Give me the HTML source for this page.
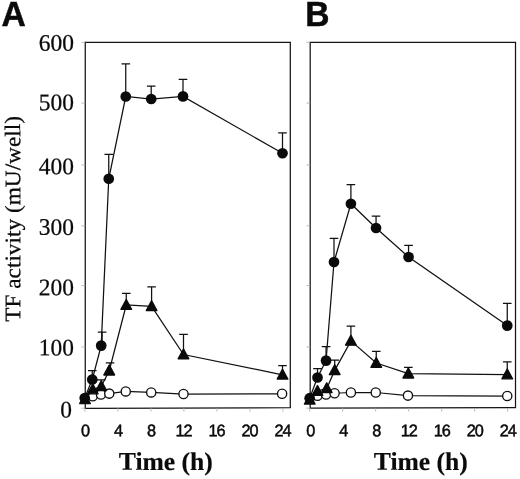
<!DOCTYPE html>
<html lang="en"><head><meta charset="utf-8"><title>TF activity</title>
<style>
html,body{margin:0;padding:0;background:#fff;}
body{width:520px;height:479px;overflow:hidden;position:relative;}
svg{position:absolute;left:0;top:0;display:block;}
text{fill:#0a0a0a;}
.pl{font-family:"Liberation Sans",sans-serif;font-weight:bold;font-size:35px;stroke:#0a0a0a;stroke-width:0.5px;}
.yt{font-family:"Liberation Serif",serif;font-size:23.8px;stroke:#0a0a0a;stroke-width:0.25px;}
.yl{font-family:"Liberation Serif",serif;font-size:22.2px;stroke:#0a0a0a;stroke-width:0.25px;}
.xl{font-family:"Liberation Serif",serif;font-weight:bold;font-size:25.6px;stroke:#0a0a0a;stroke-width:0.2px;}
.xt{font-family:"Liberation Sans",sans-serif;font-size:16.8px;stroke:#0a0a0a;stroke-width:0.5px;}
</style></head><body>
<svg width="520" height="479" viewBox="0 0 520 479">
<rect width="520" height="479" fill="#fff"/>
<text class="pl" transform="translate(1.5,26.0) scale(0.96,1)">A</text>
<text class="pl" transform="translate(305.3,26.0) scale(0.96,1)">B</text>
<text class="yt" transform="translate(74.0,50.80) rotate(0.05) scale(0.985,1)" text-anchor="end">600</text>
<text class="yt" transform="translate(74.0,110.20) rotate(0.05) scale(0.985,1)" text-anchor="end">500</text>
<text class="yt" transform="translate(74.0,174.20) rotate(0.05) scale(0.985,1)" text-anchor="end">400</text>
<text class="yt" transform="translate(74.0,234.90) rotate(0.05) scale(0.985,1)" text-anchor="end">300</text>
<text class="yt" transform="translate(74.0,295.20) rotate(0.05) scale(0.985,1)" text-anchor="end">200</text>
<text class="yt" transform="translate(74.0,355.40) rotate(0.05) scale(0.985,1)" text-anchor="end">100</text>
<text class="yt" transform="translate(72.0,417.50) rotate(0.05) scale(0.985,1)" text-anchor="end">0</text>
<text class="yl" transform="translate(20.2,218.9) rotate(-90.05) scale(1.05,1)" text-anchor="middle">TF activity (mU/well)</text>
<g>
<path d="M85.25 42.45H290.3V407.75L85.25 408.3Z" fill="none" stroke="#141414" stroke-width="1.25" stroke-linejoin="miter"/>
<line x1="81.45" y1="42.30" x2="85.25" y2="42.30" stroke="#aaa" stroke-width="0.8"/>
<line x1="81.45" y1="103.10" x2="85.25" y2="103.10" stroke="#aaa" stroke-width="0.8"/>
<line x1="81.45" y1="164.90" x2="85.25" y2="164.90" stroke="#aaa" stroke-width="0.8"/>
<line x1="81.45" y1="225.80" x2="85.25" y2="225.80" stroke="#aaa" stroke-width="0.8"/>
<line x1="81.45" y1="285.60" x2="85.25" y2="285.60" stroke="#aaa" stroke-width="0.8"/>
<line x1="81.45" y1="346.90" x2="85.25" y2="346.90" stroke="#aaa" stroke-width="0.8"/>
<line x1="81.45" y1="408.20" x2="85.25" y2="408.20" stroke="#aaa" stroke-width="0.8"/>
<line x1="84.90" y1="408.0" x2="84.90" y2="411.6" stroke="#aaa" stroke-width="0.8"/>
<line x1="117.90" y1="408.0" x2="117.90" y2="411.6" stroke="#aaa" stroke-width="0.8"/>
<line x1="150.90" y1="408.0" x2="150.90" y2="411.6" stroke="#aaa" stroke-width="0.8"/>
<line x1="183.90" y1="408.0" x2="183.90" y2="411.6" stroke="#aaa" stroke-width="0.8"/>
<line x1="216.90" y1="408.0" x2="216.90" y2="411.6" stroke="#aaa" stroke-width="0.8"/>
<line x1="249.90" y1="408.0" x2="249.90" y2="411.6" stroke="#aaa" stroke-width="0.8"/>
<line x1="282.90" y1="408.0" x2="282.90" y2="411.6" stroke="#aaa" stroke-width="0.8"/>
<polyline fill="none" stroke="#111" stroke-width="1.25" points="84.50,397.80 92.75,396.20 101.00,394.50 109.25,393.60 125.75,391.40 151.20,392.40 183.50,394.00 282.10,393.80"/>
<circle cx="92.75" cy="396.20" r="4.6" fill="#fff" stroke="#111" stroke-width="1.35"/>
<circle cx="101.00" cy="394.50" r="4.6" fill="#fff" stroke="#111" stroke-width="1.35"/>
<circle cx="109.25" cy="393.60" r="4.6" fill="#fff" stroke="#111" stroke-width="1.35"/>
<circle cx="125.75" cy="391.40" r="4.6" fill="#fff" stroke="#111" stroke-width="1.35"/>
<circle cx="151.20" cy="392.40" r="4.6" fill="#fff" stroke="#111" stroke-width="1.35"/>
<circle cx="183.50" cy="394.00" r="4.6" fill="#fff" stroke="#111" stroke-width="1.35"/>
<circle cx="282.10" cy="393.80" r="4.6" fill="#fff" stroke="#111" stroke-width="1.35"/>
<polyline fill="none" stroke="#111" stroke-width="1.25" points="85.00,399.30 92.75,389.60 101.30,386.30 109.25,370.70 126.25,305.00 151.60,306.30 183.50,354.50 282.50,374.80"/>
<path d="M101.30 386.30V379.80M97.00 379.80H105.60" stroke="#111" stroke-width="1.25" fill="none"/>
<path d="M110.05 370.70V362.90M105.75 362.90H114.35" stroke="#111" stroke-width="1.25" fill="none"/>
<path d="M126.25 305.00V293.25M121.95 293.25H130.55" stroke="#111" stroke-width="1.25" fill="none"/>
<path d="M151.60 306.30V286.75M147.30 286.75H155.90" stroke="#111" stroke-width="1.25" fill="none"/>
<path d="M183.50 354.50V334.40M179.20 334.40H187.80" stroke="#111" stroke-width="1.25" fill="none"/>
<path d="M282.50 374.80V365.50M278.20 365.50H286.80" stroke="#111" stroke-width="1.25" fill="none"/>
<path d="M85.00 393.80L90.30 403.55H79.70Z" fill="#0a0a0a" stroke="#0a0a0a" stroke-width="1.4" stroke-linejoin="round"/>
<path d="M92.75 384.10L98.05 393.85H87.45Z" fill="#0a0a0a" stroke="#0a0a0a" stroke-width="1.4" stroke-linejoin="round"/>
<path d="M101.30 380.80L106.60 390.55H96.00Z" fill="#0a0a0a" stroke="#0a0a0a" stroke-width="1.4" stroke-linejoin="round"/>
<path d="M109.25 365.20L114.55 374.95H103.95Z" fill="#0a0a0a" stroke="#0a0a0a" stroke-width="1.4" stroke-linejoin="round"/>
<path d="M126.25 299.50L131.55 309.25H120.95Z" fill="#0a0a0a" stroke="#0a0a0a" stroke-width="1.4" stroke-linejoin="round"/>
<path d="M151.60 300.80L156.90 310.55H146.30Z" fill="#0a0a0a" stroke="#0a0a0a" stroke-width="1.4" stroke-linejoin="round"/>
<path d="M183.50 349.00L188.80 358.75H178.20Z" fill="#0a0a0a" stroke="#0a0a0a" stroke-width="1.4" stroke-linejoin="round"/>
<path d="M282.50 369.30L287.80 379.05H277.20Z" fill="#0a0a0a" stroke="#0a0a0a" stroke-width="1.4" stroke-linejoin="round"/>
<polyline fill="none" stroke="#111" stroke-width="1.25" points="84.70,398.00 92.25,379.50 101.20,345.60 108.75,178.75 125.75,96.50 151.20,99.00 183.00,96.40 282.50,153.25"/>
<path d="M92.25 379.50V370.60M87.95 370.60H96.55" stroke="#111" stroke-width="1.25" fill="none"/>
<path d="M102.10 345.60V332.00M97.80 332.00H106.40" stroke="#111" stroke-width="1.25" fill="none"/>
<path d="M108.75 178.75V154.40M104.45 154.40H113.05" stroke="#111" stroke-width="1.25" fill="none"/>
<path d="M125.75 96.50V63.75M121.45 63.75H130.05" stroke="#111" stroke-width="1.25" fill="none"/>
<path d="M151.20 99.00V86.00M146.90 86.00H155.50" stroke="#111" stroke-width="1.25" fill="none"/>
<path d="M183.00 96.40V79.40M178.70 79.40H187.30" stroke="#111" stroke-width="1.25" fill="none"/>
<path d="M282.50 153.25V132.75M278.20 132.75H286.80" stroke="#111" stroke-width="1.25" fill="none"/>
<circle cx="84.70" cy="398.00" r="5.35" fill="#0a0a0a"/>
<circle cx="92.25" cy="379.50" r="5.35" fill="#0a0a0a"/>
<circle cx="101.20" cy="345.60" r="5.35" fill="#0a0a0a"/>
<circle cx="108.75" cy="178.75" r="5.35" fill="#0a0a0a"/>
<circle cx="125.75" cy="96.50" r="5.35" fill="#0a0a0a"/>
<circle cx="151.20" cy="99.00" r="5.35" fill="#0a0a0a"/>
<circle cx="183.00" cy="96.40" r="5.35" fill="#0a0a0a"/>
<circle cx="282.50" cy="153.25" r="5.35" fill="#0a0a0a"/>
<text class="xt" transform="translate(85.40,436.3) rotate(0.05) scale(0.97,1)" text-anchor="middle">0</text>
<text class="xt" transform="translate(118.40,436.3) rotate(0.05) scale(0.97,1)" text-anchor="middle">4</text>
<text class="xt" transform="translate(151.40,436.3) rotate(0.05) scale(0.97,1)" text-anchor="middle">8</text>
<text class="xt" transform="translate(183.60,436.3) rotate(0.05) scale(0.97,1)" text-anchor="middle" style="letter-spacing:-0.9px">12</text>
<text class="xt" transform="translate(216.60,436.3) rotate(0.05) scale(0.97,1)" text-anchor="middle" style="letter-spacing:-0.9px">16</text>
<text class="xt" transform="translate(249.60,436.3) rotate(0.05) scale(0.97,1)" text-anchor="middle" style="letter-spacing:-0.9px">20</text>
<text class="xt" transform="translate(282.60,436.3) rotate(0.05) scale(0.97,1)" text-anchor="middle" style="letter-spacing:-0.9px">24</text>
<text class="xl" transform="translate(165.8,469.9) rotate(0.05)" text-anchor="middle">Time (h)</text>
</g>
<g>
<path d="M310.2 42.45H515.5V407.7L310.2 408.05Z" fill="none" stroke="#141414" stroke-width="1.25" stroke-linejoin="miter"/>
<line x1="306.4" y1="42.30" x2="310.2" y2="42.30" stroke="#aaa" stroke-width="0.8"/>
<line x1="306.4" y1="103.10" x2="310.2" y2="103.10" stroke="#aaa" stroke-width="0.8"/>
<line x1="306.4" y1="164.90" x2="310.2" y2="164.90" stroke="#aaa" stroke-width="0.8"/>
<line x1="306.4" y1="225.80" x2="310.2" y2="225.80" stroke="#aaa" stroke-width="0.8"/>
<line x1="306.4" y1="285.60" x2="310.2" y2="285.60" stroke="#aaa" stroke-width="0.8"/>
<line x1="306.4" y1="346.90" x2="310.2" y2="346.90" stroke="#aaa" stroke-width="0.8"/>
<line x1="306.4" y1="408.20" x2="310.2" y2="408.20" stroke="#aaa" stroke-width="0.8"/>
<line x1="309.65" y1="408.0" x2="309.65" y2="411.6" stroke="#aaa" stroke-width="0.8"/>
<line x1="342.65" y1="408.0" x2="342.65" y2="411.6" stroke="#aaa" stroke-width="0.8"/>
<line x1="375.65" y1="408.0" x2="375.65" y2="411.6" stroke="#aaa" stroke-width="0.8"/>
<line x1="408.65" y1="408.0" x2="408.65" y2="411.6" stroke="#aaa" stroke-width="0.8"/>
<line x1="441.65" y1="408.0" x2="441.65" y2="411.6" stroke="#aaa" stroke-width="0.8"/>
<line x1="474.65" y1="408.0" x2="474.65" y2="411.6" stroke="#aaa" stroke-width="0.8"/>
<line x1="507.65" y1="408.0" x2="507.65" y2="411.6" stroke="#aaa" stroke-width="0.8"/>
<polyline fill="none" stroke="#111" stroke-width="1.25" points="309.25,397.80 317.50,395.75 326.05,394.50 334.60,393.25 350.90,392.50 375.75,392.50 407.95,395.60 507.25,396.00"/>
<circle cx="317.50" cy="395.75" r="4.6" fill="#fff" stroke="#111" stroke-width="1.35"/>
<circle cx="326.05" cy="394.50" r="4.6" fill="#fff" stroke="#111" stroke-width="1.35"/>
<circle cx="334.60" cy="393.25" r="4.6" fill="#fff" stroke="#111" stroke-width="1.35"/>
<circle cx="350.90" cy="392.50" r="4.6" fill="#fff" stroke="#111" stroke-width="1.35"/>
<circle cx="375.75" cy="392.50" r="4.6" fill="#fff" stroke="#111" stroke-width="1.35"/>
<circle cx="407.95" cy="395.60" r="4.6" fill="#fff" stroke="#111" stroke-width="1.35"/>
<circle cx="507.25" cy="396.00" r="4.6" fill="#fff" stroke="#111" stroke-width="1.35"/>
<polyline fill="none" stroke="#111" stroke-width="1.25" points="309.75,399.80 317.50,391.00 326.75,388.40 334.70,370.40 350.90,340.90 376.25,363.00 408.35,373.70 507.25,374.60"/>
<path d="M334.70 370.40V360.00M330.40 360.00H339.00" stroke="#111" stroke-width="1.25" fill="none"/>
<path d="M350.90 340.90V326.10M346.60 326.10H355.20" stroke="#111" stroke-width="1.25" fill="none"/>
<path d="M376.25 363.00V351.25M371.95 351.25H380.55" stroke="#111" stroke-width="1.25" fill="none"/>
<path d="M408.35 373.70V367.40M404.05 367.40H412.65" stroke="#111" stroke-width="1.25" fill="none"/>
<path d="M507.25 374.60V361.80M502.95 361.80H511.55" stroke="#111" stroke-width="1.25" fill="none"/>
<path d="M309.75 394.30L315.05 404.05H304.45Z" fill="#0a0a0a" stroke="#0a0a0a" stroke-width="1.4" stroke-linejoin="round"/>
<path d="M317.50 385.50L322.80 395.25H312.20Z" fill="#0a0a0a" stroke="#0a0a0a" stroke-width="1.4" stroke-linejoin="round"/>
<path d="M326.75 382.90L332.05 392.65H321.45Z" fill="#0a0a0a" stroke="#0a0a0a" stroke-width="1.4" stroke-linejoin="round"/>
<path d="M334.70 364.90L340.00 374.65H329.40Z" fill="#0a0a0a" stroke="#0a0a0a" stroke-width="1.4" stroke-linejoin="round"/>
<path d="M350.90 335.40L356.20 345.15H345.60Z" fill="#0a0a0a" stroke="#0a0a0a" stroke-width="1.4" stroke-linejoin="round"/>
<path d="M376.25 357.50L381.55 367.25H370.95Z" fill="#0a0a0a" stroke="#0a0a0a" stroke-width="1.4" stroke-linejoin="round"/>
<path d="M408.35 368.20L413.65 377.95H403.05Z" fill="#0a0a0a" stroke="#0a0a0a" stroke-width="1.4" stroke-linejoin="round"/>
<path d="M507.25 369.10L512.55 378.85H501.95Z" fill="#0a0a0a" stroke="#0a0a0a" stroke-width="1.4" stroke-linejoin="round"/>
<polyline fill="none" stroke="#111" stroke-width="1.25" points="309.65,398.20 317.50,377.50 326.05,360.60 334.00,262.00 350.90,203.75 376.05,228.00 408.55,257.00 507.25,325.60"/>
<path d="M317.50 377.50V368.50M313.20 368.50H321.80" stroke="#111" stroke-width="1.25" fill="none"/>
<path d="M326.05 360.60V346.50M321.75 346.50H330.35" stroke="#111" stroke-width="1.25" fill="none"/>
<path d="M334.00 262.00V238.25M329.70 238.25H338.30" stroke="#111" stroke-width="1.25" fill="none"/>
<path d="M350.90 203.75V184.50M346.60 184.50H355.20" stroke="#111" stroke-width="1.25" fill="none"/>
<path d="M376.05 228.00V216.00M371.75 216.00H380.35" stroke="#111" stroke-width="1.25" fill="none"/>
<path d="M408.55 257.00V245.25M404.25 245.25H412.85" stroke="#111" stroke-width="1.25" fill="none"/>
<path d="M507.25 325.60V303.40M502.95 303.40H511.55" stroke="#111" stroke-width="1.25" fill="none"/>
<circle cx="309.65" cy="398.20" r="5.35" fill="#0a0a0a"/>
<circle cx="317.50" cy="377.50" r="5.35" fill="#0a0a0a"/>
<circle cx="326.05" cy="360.60" r="5.35" fill="#0a0a0a"/>
<circle cx="334.00" cy="262.00" r="5.35" fill="#0a0a0a"/>
<circle cx="350.90" cy="203.75" r="5.35" fill="#0a0a0a"/>
<circle cx="376.05" cy="228.00" r="5.35" fill="#0a0a0a"/>
<circle cx="408.55" cy="257.00" r="5.35" fill="#0a0a0a"/>
<circle cx="507.25" cy="325.60" r="5.35" fill="#0a0a0a"/>
<text class="xt" transform="translate(310.65,436.3) rotate(0.05) scale(0.97,1)" text-anchor="middle">0</text>
<text class="xt" transform="translate(343.65,436.3) rotate(0.05) scale(0.97,1)" text-anchor="middle">4</text>
<text class="xt" transform="translate(376.65,436.3) rotate(0.05) scale(0.97,1)" text-anchor="middle">8</text>
<text class="xt" transform="translate(408.85,436.3) rotate(0.05) scale(0.97,1)" text-anchor="middle" style="letter-spacing:-0.9px">12</text>
<text class="xt" transform="translate(441.85,436.3) rotate(0.05) scale(0.97,1)" text-anchor="middle" style="letter-spacing:-0.9px">16</text>
<text class="xt" transform="translate(474.85,436.3) rotate(0.05) scale(0.97,1)" text-anchor="middle" style="letter-spacing:-0.9px">20</text>
<text class="xt" transform="translate(507.85,436.3) rotate(0.05) scale(0.97,1)" text-anchor="middle" style="letter-spacing:-0.9px">24</text>
<text class="xl" transform="translate(420.8,469.9) rotate(0.05)" text-anchor="middle">Time (h)</text>
</g>
</svg></body></html>
